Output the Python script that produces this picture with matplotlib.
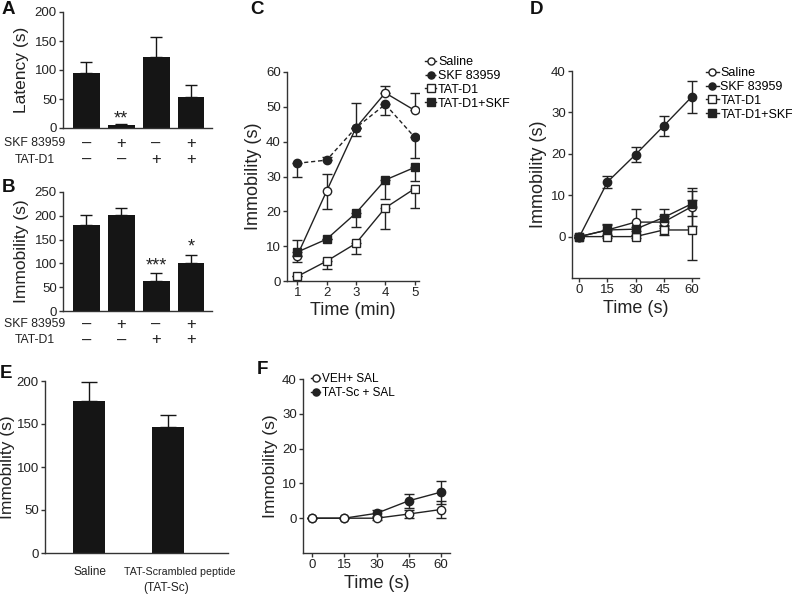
import matplotlib
matplotlib.use("Agg")
import matplotlib.pyplot as plt
import numpy as np

plt.rcParams['font.family'] = ['Liberation Sans', 'DejaVu Sans']
plt.rcParams['axes.linewidth'] = 1.0
plt.rcParams['axes.edgecolor'] = '#333333'
plt.rcParams['xtick.color'] = '#333333'
plt.rcParams['ytick.color'] = '#333333'
plt.rcParams['xtick.labelcolor'] = '#222222'
plt.rcParams['ytick.labelcolor'] = '#222222'

# ---------------- data ----------------
# Panel A
a_groups = ["Saline", "SKF", "TAT-D1", "TAT-D1+SKF"]
a_latency = [95, 6, 123, 54]
a_err = [18, 1, 34, 21]
# Panel B
b_immob = [180, 201, 64, 100]
b_err = [22, 16, 16, 18]
skf_signs = ["\u2013", "+", "\u2013", "+"]
tat_signs = ["\u2013", "\u2013", "+", "+"]
row_names = ["SKF 83959", "TAT-D1"]

# Panel C
c_time = [1, 2, 3, 4, 5]
c_saline = [7.3, 25.8, 44, 54, 49]
c_saline_lo = [1.8, 5, 2.5, 0, 0]
c_saline_hi = [0, 5, 0, 2, 5]
c_skf = [33.8, 34.7, 44, 50.7, 41.3]
c_skf_lo = [4, 0, 0, 3, 6]
c_skf_hi = [0, 1, 7, 0, 0]
c_tat = [1.3, 5.7, 10.8, 21, 26.5]
c_tat_lo = [0, 2.2, 3, 6.2, 5.5]
c_tat_hi = [0, 0, 0, 0, 0]
c_tatskf = [8.3, 12, 19.5, 29, 32.6]
c_tatskf_lo = [0, 0, 4, 5.5, 4]
c_tatskf_hi = [3.6, 0, 0, 0, 0]

# Panel D
d_time = [0, 15, 30, 45, 60]
d_saline = [0, 1.6, 3.5, 3.5, 7.2]
d_saline_err = [0.3, 1.2, 3.2, 1.5, 4.6]
d_skf = [0, 13.2, 19.8, 26.7, 33.7]
d_skf_err = [0.3, 1.5, 1.8, 2.5, 3.8]
d_tat = [0, 0, 0, 1.6, 1.6]
d_tat_err = [0, 0.3, 0.3, 1.2, 7.2]
d_tatskf = [0, 1.6, 1.8, 4.6, 7.9]
d_tatskf_err = [0, 1.4, 0.5, 2.1, 3.0]

# Panel E
e_groups = ["Saline", "TAT-Scrambled peptide\n(TAT-Sc)"]
e_immob = [177, 146]
e_err = [22, 14]

# Panel F
f_time = [0, 15, 30, 45, 60]
f_veh = [0, 0, 0, 1.2, 2.5]
f_veh_err = [0, 0, 0.5, 1.2, 2.5]
f_tatsc = [0, 0, 1.4, 5, 7.5]
f_tatsc_err = [0, 0, 1, 2, 3.3]

# ---------------- figure ----------------
W, H = 792, 594
fig = plt.figure(figsize=(W / 100, H / 100), dpi=100)


def add_ax(l, t, r, b):
    return fig.add_axes([l / W, 1 - b / H, (r - l) / W, (b - t) / H])


def fx(px):
    return px / W


def fy(py):
    return 1 - py / H


TICK = 9.5
LAB = 12.5


def style(ax):
    ax.spines['top'].set_visible(False)
    ax.spines['right'].set_visible(False)
    ax.tick_params(direction='out', length=3, width=1, labelsize=TICK, pad=1.5)


BAR = '#151515'
TXT = '#222222'


def bar_panel(ax, vals, errs, ymax, step):
    x = np.arange(len(vals))
    ax.bar(x, vals, width=0.77, color=BAR, zorder=2)
    ax.errorbar(x, vals, yerr=[np.zeros(len(vals)), errs], fmt='none',
                ecolor=BAR, elinewidth=1, capsize=4.5, capthick=1, zorder=1)
    ax.set_xlim(-0.67, 3.6)
    ax.set_ylim(0, ymax)
    ax.set_yticks(np.arange(0, ymax + 1, step))
    ax.set_xticks([])
    style(ax)
    return x


def sign_rows(ax, xs, ymid, py_mid):
    for i in range(len(xs)):
        ax.text(xs[i], ymid, skf_signs[i] + "\n" + tat_signs[i], ha='center',
                va='center', fontsize=12, color=TXT, linespacing=1.07,
                multialignment='center')
    fig.text(fx(35), fy(py_mid), "\n".join(row_names), ha='center', va='center',
             fontsize=8.8, color=TXT, linespacing=1.45, multialignment='center')


# Panel A
axA = add_ax(63, 12, 212, 128)
xa = bar_panel(axA, a_latency, a_err, 200, 50)
axA.set_ylabel("Latency (s)", fontsize=LAB, color=TXT, labelpad=4)
axA.text(xa[1], 8.6, "**", ha='center', va='baseline', fontsize=13, color=TXT)
sign_rows(axA, xa, -40.5, 151.5)

# Panel B
axB = add_ax(63, 192, 212, 311)
xb = bar_panel(axB, b_immob, b_err, 250, 50)
axB.set_ylabel("Immobility (s)", fontsize=LAB, color=TXT, labelpad=4)
axB.text(xb[2], 86, "***", ha='center', va='baseline', fontsize=13, color=TXT)
axB.text(xb[3], 126, "*", ha='center', va='baseline', fontsize=13, color=TXT)
sign_rows(axB, xb, -44.1, 332)

LC = '#222222'
MS = 6


def series(ax, x, y, lo, hi, marker, filled, ls, label):
    ax.errorbar(x, y, yerr=[lo, hi], fmt='none', ecolor=LC, elinewidth=1,
                capsize=3.5, capthick=1, zorder=2)
    ax.plot(x, y, ls=ls, color=LC, lw=1, marker=marker, ms=MS,
            mfc=LC if filled else 'white', mec=LC, mew=1, zorder=3, label=label)


def legend_at(ax, px, py, fs, hl, handles=None, labels=None):
    kw = dict(loc='upper left', bbox_to_anchor=(fx(px), fy(py)),
              bbox_transform=fig.transFigure, frameon=False, fontsize=fs,
              handlelength=hl, handletextpad=0.15, labelspacing=0.15,
              borderaxespad=0, borderpad=0, markerscale=0.85)
    if handles is None:
        ax.legend(**kw)
    else:
        ax.legend(handles, labels, **kw)


# Panel C
axC = add_ax(287, 72, 419, 281)
series(axC, c_time, c_saline, c_saline_lo, c_saline_hi, 'o', False, '-', "Saline")
series(axC, c_time, c_skf, c_skf_lo, c_skf_hi, 'o', True, (0, (3, 2)), "SKF 83959")
series(axC, c_time, c_tat, c_tat_lo, c_tat_hi, 's', False, '-', "TAT-D1")
series(axC, c_time, c_tatskf, c_tatskf_lo, c_tatskf_hi, 's', True, '-', "TAT-D1+SKF")
axC.set_xlim(0.65, 5.15)
axC.set_ylim(0, 60)
axC.set_xticks(c_time)
axC.set_yticks([0, 10, 20, 30, 40, 50, 60])
style(axC)
axC.set_xlabel("Time (min)", fontsize=LAB + 0.5, color=TXT, labelpad=2)
axC.set_ylabel("Immobility (s)", fontsize=LAB + 0.5, color=TXT, labelpad=3)
legend_at(axC, 425, 56, 9, 0.9)

# Panel D
axD = add_ax(572, 71, 699, 278)
sym = lambda e: (e, e)
series(axD, d_time, d_saline, *sym(d_saline_err), 'o', False, '-', "Saline")
series(axD, d_time, d_skf, *sym(d_skf_err), 'o', True, '-', "SKF 83959")
series(axD, d_time, d_tat, *sym(d_tat_err), 's', False, '-', "TAT-D1")
series(axD, d_time, d_tatskf, *sym(d_tatskf_err), 's', True, '-', "TAT-D1+SKF")
axD.set_xlim(-4, 64)
axD.set_ylim(-10, 40)
axD.set_xticks(d_time)
axD.set_yticks([0, 10, 20, 30, 40])
style(axD)
axD.set_xlabel("Time (s)", fontsize=LAB + 0.5, color=TXT, labelpad=3)
axD.set_ylabel("Immobility (s)", fontsize=LAB + 0.5, color=TXT, labelpad=3)
legend_at(axD, 706, 67, 9, 1.0)

# Panel E
axE = add_ax(45, 381, 228, 553)
xe = np.arange(len(e_immob))
axE.bar(xe, e_immob, width=0.4, color=BAR, zorder=2)
axE.errorbar(xe, e_immob, yerr=[np.zeros(2), e_err], fmt='none', ecolor=BAR,
             elinewidth=1, capsize=5.5, capthick=1, zorder=1)
axE.set_xlim(-0.56, 1.76)
axE.set_ylim(0, 200)
axE.set_yticks([0, 50, 100, 150, 200])
axE.set_xticks(xe)
axE.set_xticklabels([])
style(axE)
axE.tick_params(axis='x', length=0)
axE.set_ylabel("Immobility (s)", fontsize=LAB, color=TXT, labelpad=1)
# category labels (px per unit = 79)
e_lines = [g.split("\n") for g in e_groups]
e_shift = [[0.01], [0.15, -0.03]]
e_size = [[8.6], [7.7, 8.6]]
for i, lines in enumerate(e_lines):
    for j, line in enumerate(lines):
        axE.text(xe[i] + e_shift[i][j], -0.11 - 0.095 * j, line, ha='center', va='center',
                 fontsize=e_size[i][j], color=TXT, transform=axE.get_xaxis_transform())

# Panel F
axF = add_ax(303, 379, 450, 553)
series(axF, f_time, f_tatsc, *sym(f_tatsc_err), 'o', True, '-', "TAT-Sc + SAL")
series(axF, f_time, f_veh, *sym(f_veh_err), 'o', False, '-', "VEH+ SAL")
axF.set_xlim(-4.2, 64.2)
axF.set_ylim(-10, 40)
axF.set_xticks(f_time)
axF.set_yticks([0, 10, 20, 30, 40])
style(axF)
axF.set_xlabel("Time (s)", fontsize=LAB + 0.5, color=TXT, labelpad=3)
axF.set_ylabel("Immobility (s)", fontsize=LAB, color=TXT, labelpad=3)
hF, lF = axF.get_legend_handles_labels()
legend_at(axF, 311, 373, 8.5, 0.8, hF[::-1], lF[::-1])

# Panel letters
for lab, (px, py) in {"A": (2, 10), "B": (2, 187), "C": (250, 9), "D": (530, 9),
                      "E": (0, 373), "F": (257, 370)}.items():
    fig.text(fx(px), fy(py), lab, fontsize=13.5, fontweight='bold', ha='left',
             va='center', color='#111111')

fig.savefig("out.png", dpi=100)
